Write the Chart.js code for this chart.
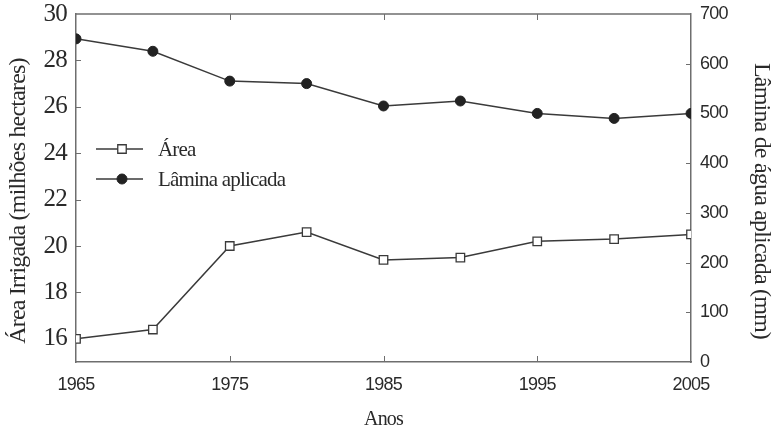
<!DOCTYPE html>
<html>
<head>
<meta charset="utf-8">
<script src="https://cdn.jsdelivr.net/npm/chart.js@4/dist/chart.umd.min.js"></script>
<style>
  html, body { margin: 0; padding: 0; background: #fff; }
  #wrap { width: 776px; height: 440px; }
</style>
</head>
<body>
<div id="wrap"><canvas id="c" width="776" height="440"></canvas></div>
<script>
// Irrigated area (million ha) and applied water depth (mm), 1965–2005
const years = [1965, 1970, 1975, 1980, 1985, 1990, 1995, 2000, 2005];
const area = [16.0, 16.4, 20.0, 20.6, 19.4, 19.5, 20.2, 20.3, 20.5];
const lamina = [650, 625, 565, 560, 515, 525, 500, 490, 500];

// Axis tick values
const yearTicks = [1965, 1975, 1985, 1995, 2005];
const areaTicks = [16, 18, 20, 22, 24, 26, 28, 30];
const laminaTicks = [0, 100, 200, 300, 400, 500, 600, 700];

const SERIF = "'Liberation Serif', 'Times New Roman', serif";
const SANS = "'Liberation Sans', Arial, sans-serif";
const INK = '#2a2a2a';
const FRAME = '#6e6e6e';

// Tight letter spacing for all chart text
const tightText = {
  id: 'tightText',
  beforeUpdate(chart) { chart.ctx.letterSpacing = '-0.8px'; },
  beforeDraw(chart) { chart.ctx.letterSpacing = '-0.8px'; }
};

// Top border, inward tick marks and the in-plot legend
const frameAndLegend = {
  id: 'frameAndLegend',
  beforeDatasetsDraw(chart) {
    const { ctx, chartArea: a, scales } = chart;
    ctx.save();
    ctx.strokeStyle = FRAME;
    ctx.lineWidth = 1.5;
    ctx.beginPath();
    ctx.moveTo(a.left, a.top);
    ctx.lineTo(a.right, a.top);
    ctx.stroke();
    ctx.lineWidth = 1;
    ctx.beginPath();
    scales.x.ticks.forEach(t => {
      if (t.value === scales.x.min || t.value === scales.x.max) return;
      const px = Math.round(scales.x.getPixelForValue(t.value)) + 0.5;
      ctx.moveTo(px, a.bottom); ctx.lineTo(px, a.bottom - 6);
      ctx.moveTo(px, a.top); ctx.lineTo(px, a.top + 6);
    });
    scales.y.ticks.forEach(t => {
      if (t.value === scales.y.max) return;
      const py = Math.round(scales.y.getPixelForValue(t.value)) + 0.5;
      ctx.moveTo(a.left, py); ctx.lineTo(a.left + 5, py);
    });
    scales.y1.ticks.forEach(t => {
      if (t.value === scales.y1.max || t.value === scales.y1.min) return;
      const py = Math.round(scales.y1.getPixelForValue(t.value)) + 0.5;
      ctx.moveTo(a.right, py); ctx.lineTo(a.right - 5, py);
    });
    ctx.stroke();
    ctx.restore();
  },
  afterDraw(chart) {
    const { ctx } = chart;
    const rows = [{ ds: 0, y: 149 }, { ds: 1, y: 179 }];
    ctx.save();
    rows.forEach(r => {
      const d = chart.data.datasets[r.ds];
      ctx.strokeStyle = d.borderColor;
      ctx.lineWidth = d.borderWidth;
      ctx.beginPath();
      ctx.moveTo(96, r.y); ctx.lineTo(143, r.y);
      ctx.stroke();
      ctx.fillStyle = d.pointBackgroundColor;
      ctx.strokeStyle = d.pointBorderColor;
      ctx.lineWidth = d.pointBorderWidth;
      Chart.helpers.drawPoint(ctx, { pointStyle: d.pointStyle, radius: d.pointRadius, rotation: 0, borderWidth: d.pointBorderWidth }, 122, r.y);
      ctx.fillStyle = INK;
      ctx.font = '21px ' + SERIF;
      ctx.textBaseline = 'middle';
      ctx.textAlign = 'left';
      ctx.fillText(d.label, 158, r.y + 1);
    });
    ctx.restore();
  }
};

// Keep label overhang from changing the plot area
const noOverhang = s => { s.paddingTop = 0; s.paddingBottom = 0; s.paddingLeft = 0; s.paddingRight = 0; };

new Chart(document.getElementById('c'), {
  type: 'line',
  data: {
    datasets: [
      {
        label: 'Área',
        data: years.map((yr, i) => ({ x: yr, y: area[i] })),
        yAxisID: 'y',
        borderColor: '#3a3a3a',
        borderWidth: 1.5,
        pointStyle: 'rect',
        pointRadius: 6,
        pointBackgroundColor: '#ffffff',
        pointBorderColor: '#3a3a3a',
        pointBorderWidth: 1.3,
        tension: 0
      },
      {
        label: 'Lâmina aplicada',
        data: years.map((yr, i) => ({ x: yr, y: lamina[i] })),
        yAxisID: 'y1',
        borderColor: '#3a3a3a',
        borderWidth: 1.5,
        pointStyle: 'circle',
        pointRadius: 5,
        pointBackgroundColor: '#222222',
        pointBorderColor: '#222222',
        pointBorderWidth: 1,
        tension: 0
      }
    ]
  },
  options: {
    responsive: false,
    animation: false,
    devicePixelRatio: 1,
    layout: { padding: { top: 14, left: 0, right: 0, bottom: 0 } },
    plugins: { legend: { display: false }, tooltip: { enabled: false } },
    scales: {
      x: {
        type: 'linear',
        position: 'bottom',
        min: 1965,
        max: 2005,
        afterBuildTicks: s => { s.ticks = yearTicks.map(v => ({ value: v })); },
        afterFit: s => { s.height = 78; noOverhang(s); },
        grid: { display: false, drawTicks: false },
        border: { display: true, color: FRAME, width: 1.5 },
        ticks: {
          color: INK,
          font: { family: SANS, size: 18 },
          padding: 12,
          maxRotation: 0,
          callback: v => String(v)
        },
        title: {
          display: true,
          text: 'Anos',
          color: INK,
          font: { family: SERIF, size: 20 },
          padding: { top: 0, bottom: 8 }
        }
      },
      y: {
        type: 'linear',
        position: 'left',
        min: 15,
        max: 30,
        afterBuildTicks: s => { s.ticks = areaTicks.map(v => ({ value: v })); },
        afterFit: s => { s.width = 76; noOverhang(s); },
        grid: { display: false, drawTicks: false },
        border: { display: true, color: FRAME, width: 1.5 },
        ticks: {
          color: INK,
          font: { family: SERIF, size: 25 },
          padding: 9
        },
        title: {
          display: true,
          text: 'Área Irrigada (milhões hectares)     ',
          color: INK,
          font: { family: SERIF, size: 24 },
          padding: { top: 4, bottom: 0 }
        }
      },
      y1: {
        type: 'linear',
        position: 'right',
        min: 0,
        max: 700,
        afterBuildTicks: s => { s.ticks = laminaTicks.map(v => ({ value: v })); },
        afterFit: s => { s.width = 85; noOverhang(s); },
        grid: { display: false, drawTicks: false },
        border: { display: true, color: FRAME, width: 1.5 },
        ticks: {
          color: INK,
          font: { family: SANS, size: 18 },
          padding: 9
        },
        title: {
          display: true,
          text: '     Lâmina de água aplicada (mm)',
          color: INK,
          font: { family: SERIF, size: 24 },
          padding: { top: 0, bottom: 2 }
        }
      }
    }
  },
  plugins: [tightText, frameAndLegend]
});
</script>
</body>
</html>
